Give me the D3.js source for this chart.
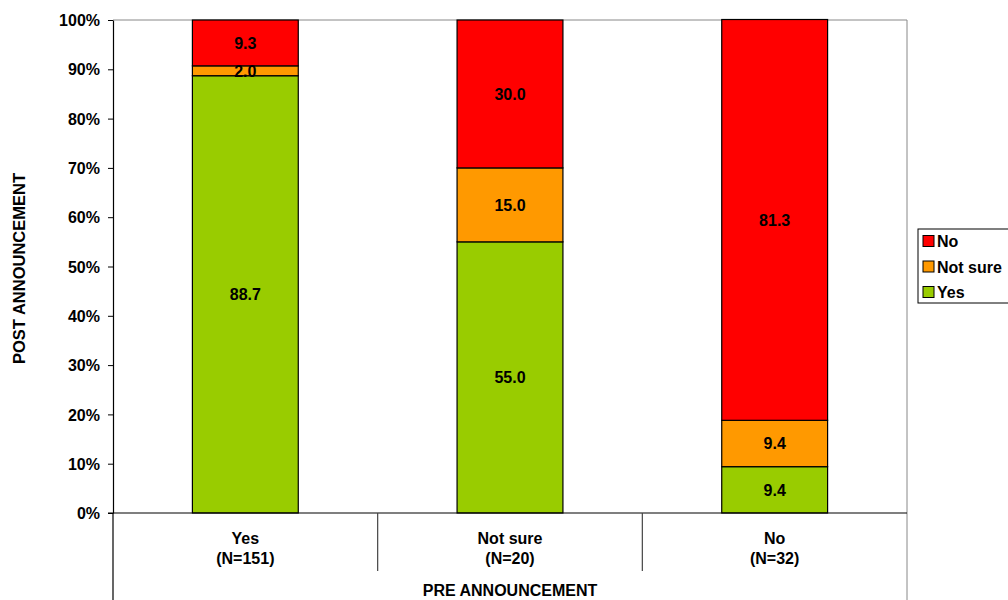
<!DOCTYPE html>
<html><head><meta charset="utf-8">
<script src="https://cdn.jsdelivr.net/npm/d3@7"></script>
<style>body{margin:0;background:#fff;}svg{display:block;font-family:Arial,"Liberation Sans",sans-serif;font-weight:bold;}</style>
</head><body><svg id="c" width="1008" height="600"></svg>
<script>
const categories = ["Yes", "Not sure", "No"];
const categoryN = ["(N=151)", "(N=20)", "(N=32)"];
const seriesNames = ["Yes", "Not sure", "No"];
const yesVals = [88.7, 55.0, 9.4];
const notSureVals = [2.0, 15.0, 9.4];
const noVals = [9.3, 30.0, 81.3];
const yTicks = [0,10,20,30,40,50,60,70,80,90,100];
const colors = ["#99CC00", "#FF9900", "#FF0000"];

const FS = 16;
const svg = d3.select("#c");
const L = 113, R = 907, T = 20, B = 513;
const x = d3.scaleBand().domain(categories).range([L, R]).paddingInner(0).paddingOuter(0);
const y = d3.scaleLinear().domain([0, 100]).range([B, T]);
const barW = x.bandwidth() * 0.4;

const rows = categories.map((c, i) => ({cat: c, "Yes": yesVals[i], "Not sure": notSureVals[i], "No": noVals[i]}));
const stack = d3.stack().keys(seriesNames)(rows);

svg.append("line").attr("x1", L).attr("x2", R).attr("y1", T).attr("y2", T).attr("stroke", "#888").attr("stroke-width", 1);
svg.append("line").attr("x1", R).attr("x2", R).attr("y1", T).attr("y2", 600).attr("stroke", "#888").attr("stroke-width", 1);

stack.forEach((s, si) => {
  const g = svg.append("g");
  s.forEach((d, i) => {
    const cx = x(categories[i]) + x.bandwidth() / 2;
    g.append("rect").attr("x", cx - barW / 2).attr("width", barW)
      .attr("y", y(d[1])).attr("height", y(d[0]) - y(d[1]))
      .attr("fill", colors[si]).attr("stroke", "#000").attr("stroke-width", 1.2);
  });
});
stack.forEach((s, si) => {
  s.forEach((d, i) => {
    const cx = x(categories[i]) + x.bandwidth() / 2;
    svg.append("text").attr("x", cx).attr("y", (y(d[0]) + y(d[1])) / 2 + 6)
      .attr("text-anchor", "middle").attr("font-size", FS).attr("fill", "#000")
      .text(d.data[seriesNames[si]].toFixed(1));
  });
});

const yAxis = d3.axisLeft(y).tickValues(yTicks).tickFormat(d => d + "%").tickSize(5).tickSizeOuter(0);
const ga = svg.append("g").attr("transform", `translate(${L},0)`).call(yAxis);
ga.select(".domain").attr("stroke", "#000").attr("stroke-width", 1.2);
ga.selectAll(".tick line").attr("stroke", "#000");
ga.selectAll(".tick text").attr("font-size", FS).attr("font-weight", "bold").attr("font-family", "Arial,'Liberation Sans',sans-serif").attr("fill", "#000").attr("x", -13).attr("dy", "0.35em");

svg.append("line").attr("x1", L - 5).attr("x2", R).attr("y1", B).attr("y2", B).attr("stroke", "#000").attr("stroke-width", 1.2);
svg.append("line").attr("x1", L).attr("x2", L).attr("y1", B).attr("y2", 600).attr("stroke", "#000").attr("stroke-width", 1.2);
categories.slice(1).forEach(c => {
  svg.append("line").attr("x1", x(c)).attr("x2", x(c)).attr("y1", B).attr("y2", 571).attr("stroke", "#444").attr("stroke-width", 1.2);
});
categories.forEach((c, i) => {
  const cx = x(c) + x.bandwidth() / 2;
  svg.append("text").attr("x", cx).attr("y", 544).attr("text-anchor", "middle").attr("font-size", FS).text(c);
  svg.append("text").attr("x", cx).attr("y", 564).attr("text-anchor", "middle").attr("font-size", FS).text(categoryN[i]);
});
svg.append("text").attr("x", (L + R) / 2).attr("y", 596).attr("text-anchor", "middle").attr("font-size", FS).text("PRE ANNOUNCEMENT");
svg.append("text").attr("transform", `translate(25,${(T + B) / 2 + 2}) rotate(-90)`).attr("text-anchor", "middle").attr("font-size", 16.5).text("POST ANNOUNCEMENT");

const lg = svg.append("g");
lg.append("rect").attr("x", 918).attr("y", 229).attr("width", 100).attr("height", 74).attr("fill", "#fff").attr("stroke", "#000").attr("stroke-width", 1);
const legOrder = [2, 1, 0];
legOrder.forEach((si, k) => {
  const yy = 241 + k * 25.5;
  lg.append("rect").attr("x", 923).attr("y", yy - 5.5).attr("width", 11).attr("height", 11).attr("fill", colors[si]).attr("stroke", "#000").attr("stroke-width", 1);
  lg.append("text").attr("x", 937).attr("y", yy + 6).attr("font-size", FS).text(seriesNames[si]);
});
</script></body></html>
